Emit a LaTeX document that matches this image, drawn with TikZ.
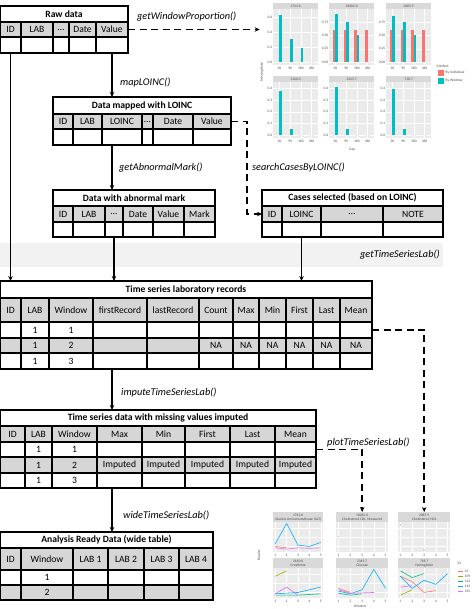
\documentclass[tikz,border=0pt]{standalone}
\usepackage{fontspec}
\setmainfont{Carlito}
\usetikzlibrary{arrows.meta, positioning, calc}
\definecolor{cgrey}{HTML}{D6D6D6}
\definecolor{cband}{HTML}{F2F2F2}
\definecolor{cpanel}{HTML}{EBEBEB}
\definecolor{cstrip}{HTML}{D9D9D9}
\definecolor{cred}{HTML}{F8766D}
\definecolor{cteal}{HTML}{00BFC4}
\definecolor{cida}{HTML}{F8766D}
\definecolor{cidb}{HTML}{A3A500}
\definecolor{cidc}{HTML}{00BF7D}
\definecolor{cidd}{HTML}{00B0F6}
\definecolor{cide}{HTML}{E76BF3}
\tikzset{
  cell/.style={draw, fill=white, line width=1.1pt, inner sep=0pt, outer sep=0pt, anchor=north west, font=\fontsize{9.6}{10}\selectfont},
  hcell/.style={cell, fill=cgrey},
  tabtitle/.style={cell, font=\fontsize{9.6}{10}\selectfont\bfseries},
  arrow/.style={-{Stealth[length=5pt, width=4.5pt]}, line width=1.2pt},
  dasharrow/.style={arrow, dash pattern=on 7pt off 4.5pt, line width=1.5pt},
  fname/.style={font=\fontsize{10.3}{12}\selectfont\itshape, anchor=west, inner sep=0pt},
  plottext/.style={font=\fontsize{3.6}{4}\selectfont, inner sep=0.5pt, text=black!70},
  bstrip/.style={plottext, fill=cstrip, minimum width=45, minimum height=6, anchor=north west, inner sep=0pt},
  lstrip/.style={plottext, fill=cstrip, anchor=north west, inner sep=0pt, align=center},
  grid/.style={white, line width=0.4pt},
}
% one row of a table: prefix, style, left x, top y, height, list of right-x/text
\newcommand{\tabrow}[6]{%
  \foreach \xb/\txt [count=\i, remember=\xb as \xa (initially #3)] in {#6}
    \node[#2, minimum width=\xb-\xa, minimum height=#5] (#1\i) at (\xa,#4) {\txt};
}

\begin{document}
\begin{tikzpicture}[x=1pt, y=-1pt, font=\fontsize{9.6}{10}\selectfont]
  \useasboundingbox (0,0) rectangle (474,609);
  % band behind getTimeSeriesLab()
  \fill[cband] (0,243) rectangle (443,267);
  \node[fname, anchor=east] (lbl-gts) at (440,255) {getTimeSeriesLab()};

  % tables
  \node[tabtitle, minimum width=128, minimum height=16] (raw) at (0,6) {Raw data};
  \tabrow{raw-h}{hcell}{0}{22}{15}{21/ID,53/LAB,69/\ldots,96/Date,128/Value}
  \tabrow{raw-d}{cell}{0}{37}{16}{21/{},53/{},69/{},96/{},128/{}}

  \node[tabtitle, minimum width=178, minimum height=17] (map) at (53,97) {Data mapped with LOINC};
  \tabrow{map-h}{hcell}{53}{114}{15}{73/ID,102/LAB,142/LOINC,153/\ldots,193/Date,231/Value}
  \tabrow{map-d}{cell}{53}{129}{16}{73/{},102/{},142/{},153/{},193/{},231/{}}

  \node[tabtitle, minimum width=162, minimum height=16] (abn) at (53,190) {Data with abnormal mark};
  \tabrow{abn-h}{hcell}{53}{206}{16}{73/ID,105/LAB,123/\ldots,153/Date,184/Value,215/Mark}
  \tabrow{abn-d}{cell}{53}{222}{15}{73/{},105/{},123/{},153/{},184/{},215/{}}

  \node[tabtitle, minimum width=181, minimum height=16] (cases) at (262,190) {Cases selected (based on LOINC)};
  \tabrow{cases-h}{hcell}{262}{206}{16}{282/ID,321/LOINC,383/\ldots,443/NOTE}
  \tabrow{cases-d}{cell}{262}{222}{15}{282/{},321/{},383/{},443/{}}

  \node[tabtitle, minimum width=372, minimum height=17] (ts) at (0,281) {Time series laboratory records};
  \tabrow{ts-h}{hcell}{0}{298}{24}{21/ID,49/LAB,93/Window,147/firstRecord,199/lastRecord,233/Count,259/Max,286/Min,313/First,340/Last,372/Mean}
  \tabrow{ts-a}{cell}{0}{322}{16}{21/{},49/1,93/1,147/{},199/{},233/{},259/{},286/{},313/{},340/{},372/{}}
  \tabrow{ts-b}{hcell}{0}{338}{15}{21/{},49/1,93/2,147/{},199/{},233/NA,259/NA,286/NA,313/NA,340/NA,372/NA}
  \tabrow{ts-c}{cell}{0}{353}{16}{21/{},49/1,93/3,147/{},199/{},233/{},259/{},286/{},313/{},340/{},372/{}}

  \node[tabtitle, minimum width=316, minimum height=16] (imp) at (0,410) {Time series data with missing values imputed};
  \tabrow{imp-h}{hcell}{0}{426}{16}{25/ID,52/LAB,97/Window,142/Max,185/Min,230/First,275/Last,316/Mean}
  \tabrow{imp-a}{cell}{0}{442}{15}{25/{},52/1,97/1,142/{},185/{},230/{},275/{},316/{}}
  \tabrow{imp-b}{hcell}{0}{457}{16}{25/{},52/1,97/2,142/Imputed,185/Imputed,230/Imputed,275/Imputed,316/Imputed}
  \tabrow{imp-c}{cell}{0}{473}{15}{25/{},52/1,97/3,142/{},185/{},230/{},275/{},316/{}}

  \node[tabtitle, minimum width=213, minimum height=16] (ard) at (0,532) {Analysis Ready Data (wide table)};
  \tabrow{ard-h}{hcell}{0}{548}{22}{21/ID,73/Window,108/LAB 1,144/LAB 2,179/LAB 3,213/LAB 4}
  \tabrow{ard-a}{cell}{0}{570}{15}{21/{},73/1,108/{},144/{},179/{},213/{}}
  \tabrow{ard-b}{hcell}{0}{585}{15}{21/{},73/2,108/{},144/{},179/{},213/{}}

  % function names
  \node[fname] (lbl-gwp) at (137,17) {getWindowProportion()};
  \node[fname] (lbl-map) at (120,83) {mapLOINC()};
  \node[fname] (lbl-gam) at (119,168) {getAbnormalMark()};
  \node[fname] (lbl-scl) at (252,168) {searchCasesByLOINC()};
  \node[fname] (lbl-its) at (121,393) {imputeTimeSeriesLab()};
  \node[fname] (lbl-pts) at (327,443) {plotTimeSeriesLab()};
  \node[fname] (lbl-wts) at (123,515) {wideTimeSeriesLab()};

  % bar plot of missing rates
  \foreach \px/\py/\lab/\s/\ticks/\bv [count=\k] in {
      273/3/1742-6/75/{0.0,0.2,0.4,0.6}/{0.62/0,0.30/0,0.19/0,0/0},
      329/3/18262-6/53/{0.00,0.25,0.50,0.75}/{0.9/0.6,0.75/0.6,0.5/0.6,0/0.6},
      386/3/2085-9/53/{0.00,0.25,0.50,0.75}/{0.87/0.6,0.75/0.6,0.5/0.6,0/0.6},
      273/76/2160-0/116/{0.0,0.1,0.2,0.3,0.4}/{0.38/0,0.05/0,0/0,0/0},
      329/76/2345-7/116/{0.0,0.1,0.2,0.3,0.4}/{0.41/0,0.05/0,0/0,0/0},
      386/76/718-7/116/{0.0,0.1,0.2,0.3,0.4}/{0.40/0,0.05/0,0/0,0/0}} {
    \node[bstrip] (bp\k) at (\px,\py) {\lab};
    \fill[cpanel] (\px,\py+6) rectangle ++(45,56);
    \foreach \t in \ticks {
      \draw[grid] (\px,{\py+59-\t*\s}) -- ++(45,0);
      \node[plottext, anchor=east] at (\px,{\py+59-\t*\s}) {\t};
    }
    \foreach \g [count=\j] in {30,90,180,360} {
      \draw[grid] ({\px+45*(\j-0.4)/4.2},\py+6) -- ++(0,56);
      \node[plottext] at ({\px+45*(\j-0.4)/4.2},\py+65) {\g};
    }
    \foreach \v/\r [count=\j] in \bv {
      \fill[cteal] ({\px+45*(\j-0.4)/4.2},\py+59) rectangle ++(2.4,{-\v*\s});
      \fill[cred] ({\px+45*(\j-0.4)/4.2-2.4},\py+59) rectangle ++(2.4,{-\r*\s});
    }
  }
  \node[plottext, rotate=90] (mrate) at (262,72) {Missing Rate};
  \node[plottext] (gap) at (352,150) {Gap};
  \node[plottext, anchor=west] (method) at (436,66) {Method};
  \fill[cred] (438,70) rectangle ++(6,6);
  \node[plottext, anchor=west] (byind) at (445,73) {By Individual};
  \fill[cteal] (438,78) rectangle ++(6,6);
  \node[plottext, anchor=west] (bywin) at (445,81) {By Window};

  % line plot of time series
  \foreach \px/\py/\w/\lab [count=\k] in {
      273/512/50/{1742-6\\Alanine Aminotransferase (ALT)},
      336/512/52/{18262-6\\Cholesterol, LDL, Measured},
      398/512/52/{2085-9\\Cholesterol, HDL},
      273/558/50/{2160-0\\Creatinine},
      336/558/52/{2345-7\\Glucose},
      398/558/52/{718-7\\Hemoglobin}} {
    \node[lstrip, minimum width=\w, minimum height=10] (lp\k) at (\px,\py) {\lab};
    \fill[cpanel] (\px,\py+10) rectangle ++(\w,30);
    \foreach \g in {0.2,0.5,0.8}
      \draw[grid] (\px,{\py+10+30*\g}) -- ++(\w,0);
    \foreach \j in {1,...,5} {
      \draw[grid] ({\px+(\j-0.8)/4.4*\w},\py+10) -- ++(0,30);
      \node[plottext] at ({\px+(\j-0.8)/4.4*\w},\py+43) {\j};
    }
  }
  \begin{scope}[shift={(263.9,550.5)}, x=11.36pt, y=27pt, line width=0.6pt]
    \draw[cidd] (1,0.25) -- (2,1) -- (3,0.2) -- (4,0.15) -- (5,0.3);
    \draw[cide] (1,0.1) -- (2,0.05) -- (3,0.1) -- (4,0.08) -- (5,0.1);
    \draw[cida] (1,0.15) -- (2,0.1);
  \end{scope}
  \begin{scope}[shift={(326.55,550.5)}, x=11.82pt, y=27pt]
    \fill[cida] (1,0.5) circle (0.6pt);
  \end{scope}
  \begin{scope}[shift={(388.55,550.5)}, x=11.82pt, y=27pt]
    \fill[cida] (1,0.95) circle (0.6pt);
    \fill[cidd] (3,0.02) circle (0.6pt);
  \end{scope}
  \begin{scope}[shift={(263.9,596.5)}, x=11.36pt, y=27pt, line width=0.6pt]
    \draw[cidb] (1,0.75) -- (2,0.95);
    \draw[cide] (1,0.1) -- (2,0.35) -- (3,0.05);
    \draw[cidc] (1,0.05) -- (3,0.05) -- (5,0.1);
    \draw[cidd] (1,0.1) -- (3,0.15) -- (5,0.35);
  \end{scope}
  \begin{scope}[shift={(326.55,596.5)}, x=11.82pt, y=27pt, line width=0.6pt]
    \draw[cidd] (1,0.2) -- (2,0.1) -- (3,0.25) -- (4,1) -- (5,0.3);
    \draw[cide] (1,0.25) -- (2,0.12) -- (4,0.15);
    \draw[cidc] (1,0.12) -- (2,0.05) -- (3,0.1);
    \draw[cida] (1,0.3) -- (2,0.15);
  \end{scope}
  \begin{scope}[shift={(388.55,596.5)}, x=11.82pt, y=27pt, line width=0.6pt]
    \draw[cidc] (1,0.95) -- (2,0.7) -- (3,0.85);
    \draw[cida] (1,0.75) -- (2,0.55) -- (3,0.15) -- (4,0.22);
    \draw[cidd] (1,0.75) -- (2,0.3) -- (3,0.6) -- (4,0.45) -- (5,0.85);
    \draw[cidb] (1,0.05) -- (2,0.25);
    \draw[cide] (1,0.35) -- (2,0.4);
  \end{scope}
  \node[plottext, rotate=90] (results) at (259,555) {Results};
  \node[plottext] (window) at (360,606) {Window};
  \node[plottext, anchor=west] (idkey) at (457,563) {ID};
  \foreach \c/\l [count=\i] in {cida/36,cidb/109,cidc/122,cidd/143,cide/165} {
    \draw[\c, line width=0.6pt] (458,{566+5*\i}) -- ++(5,0);
    \node[plottext, anchor=west] (idkey\i) at (464,{566+5*\i}) {\l};
  }

  % connectors
  \draw[arrow] (raw-d1.south) -- (raw-d1.south |- ts.north);
  \draw[arrow] (raw-d5.south) -- (raw-d5.south |- map.north);
  \draw[arrow] (map-d1.south -| raw-d5.south) -- (abn.north -| raw-d5.south);
  \draw[arrow] (abn-d3.south) -- (abn-d3.south |- ts.north);
  \draw[arrow] (cases-d2.south) -- (cases-d2.south |- ts.north);
  \draw[arrow] (ts-c4.south -| raw-d5.south) -- (imp.north -| raw-d5.south);
  \draw[arrow] (imp-c4.south -| raw-d5.south) -- (ard.north -| raw-d5.south);
  \draw[dasharrow] (raw-h5.east) -- (raw-h5.east -| mrate.north);
  \draw[dasharrow] (map-h6.east) -- ++(16,0) |- (cases-h1.west);
  \draw[dasharrow] (ts-a11.east) -| (lp3.north);
  \draw[dasharrow] (imp-a8.east) -| (lp2.north);
\end{tikzpicture}
\end{document}
